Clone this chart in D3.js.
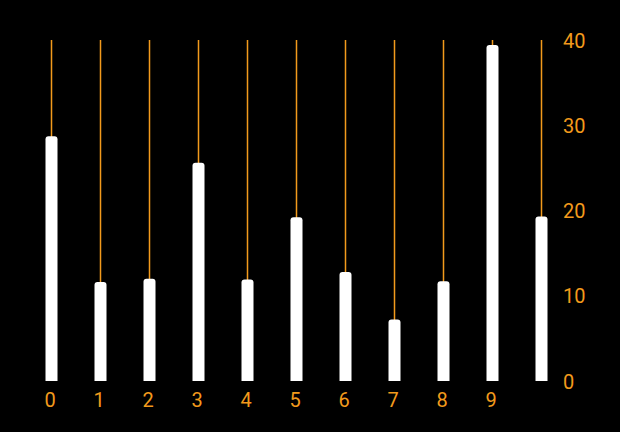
<!DOCTYPE html>
<html>
<head>
<meta charset="utf-8">
<script src="https://cdn.jsdelivr.net/npm/d3@7"></script>
<style>
  html, body { margin: 0; padding: 0; background: #000; }
  svg { display: block; }
  text { font-family: Roboto, "Liberation Sans", sans-serif; }
</style>
</head>
<body>
<svg id="chart" width="620" height="432"></svg>
<script>
const categories = ["0", "1", "2", "3", "4", "5", "6", "7", "8", "9", ""];
const values = [28.7, 11.6, 12.0, 25.6, 11.9, 19.2, 12.8, 7.2, 11.7, 39.4, 19.3];
const yTicks = [0, 10, 20, 30, 40];

const orange = "#F29A1C";
const W = 620, H = 432;
const svg = d3.select("#chart");
svg.append("rect").attr("width", W).attr("height", H).attr("fill", "#000");

const idx = categories.map((_, i) => i);
const x = d3.scalePoint().domain(idx).range([51.5, 541.5]);
const y = d3.scaleLinear().domain([0, 40]).range([381, 40]);

// gridlines
svg.append("g").selectAll("line").data(idx).join("line")
  .attr("x1", d => x(d)).attr("x2", d => x(d))
  .attr("y1", y(40)).attr("y2", y(0))
  .attr("stroke", orange).attr("stroke-width", 1.5);

// bars with rounded top corners
const bw = 12, r = 3;
function barPath(i) {
  const cx = x(i), x0 = cx - bw / 2, x1 = cx + bw / 2;
  const yt = y(values[i]), yb = y(0);
  return `M${x0},${yb}V${yt + r}Q${x0},${yt} ${x0 + r},${yt}H${x1 - r}Q${x1},${yt} ${x1},${yt + r}V${yb}Z`;
}
svg.append("g").selectAll("path").data(idx).join("path")
  .attr("d", barPath).attr("fill", "#fff");

// x axis labels
const xAxis = d3.axisBottom(x).tickSize(0).tickPadding(0).tickFormat(i => categories[i]);
const gx = svg.append("g").attr("transform", `translate(-2, ${y(0) + 12})`).call(xAxis);
gx.select(".domain").remove();
gx.selectAll("text").attr("fill", orange).attr("font-size", 20).attr("dy", "0.71em")
  .style("font-family", "Roboto, 'Liberation Sans', sans-serif");

// right y axis labels
const yAxis = d3.axisRight(y).tickValues(yTicks).tickSize(0).tickPadding(0);
const gy = svg.append("g").attr("transform", `translate(563, 0)`).call(yAxis);
gy.select(".domain").remove();
gy.selectAll("text").attr("fill", orange).attr("font-size", 20).attr("dy", "0.35em")
  .style("font-family", "Roboto, 'Liberation Sans', sans-serif");
</script>
</body>
</html>
